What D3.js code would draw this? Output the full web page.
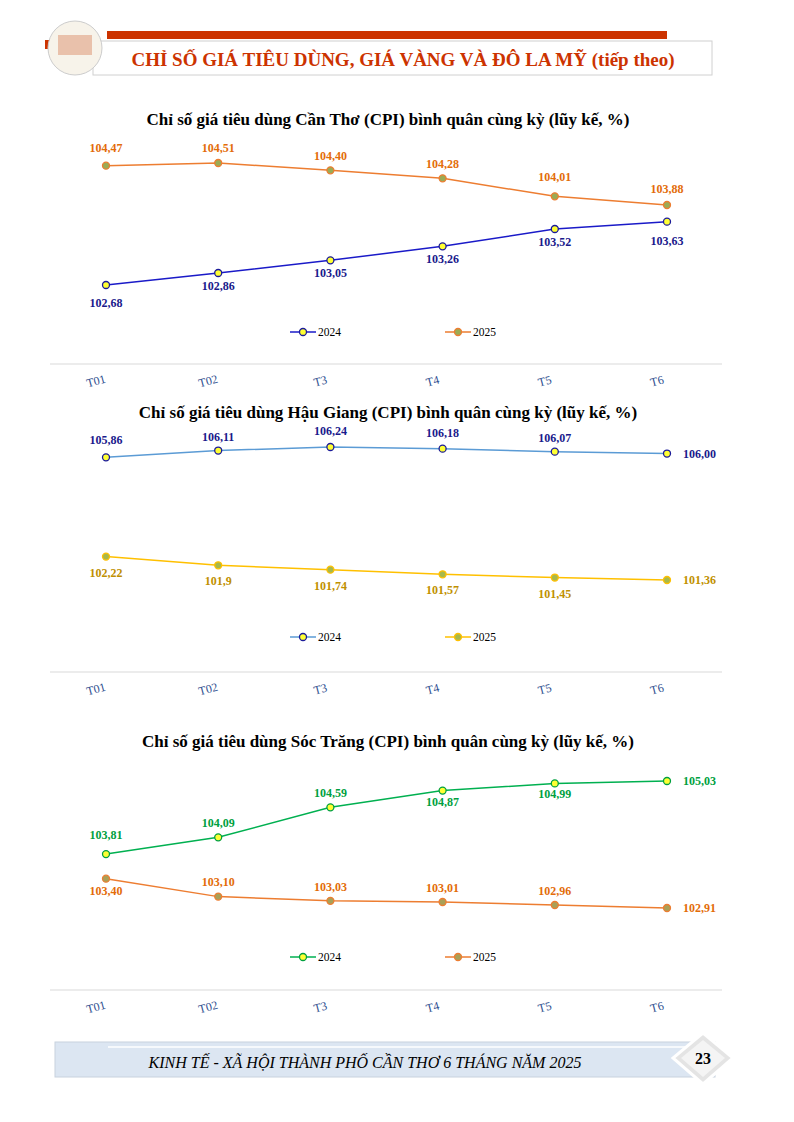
<!DOCTYPE html>
<html><head><meta charset="utf-8">
<script src="https://cdn.jsdelivr.net/npm/d3@7"></script>
<style>body{margin:0;background:#fff}text{font-family:"Liberation Serif","Times New Roman",serif}</style>
</head><body>
<script>
var months = ["T01", "T02", "T3", "T4", "T5", "T6"];
var canTho2024 = [102.68, 102.86, 103.05, 103.26, 103.52, 103.63];
var canTho2025 = [104.47, 104.51, 104.40, 104.28, 104.01, 103.88];
var hauGiang2024 = [105.86, 106.11, 106.24, 106.18, 106.07, 106.00];
var hauGiang2025 = [102.22, 101.9, 101.74, 101.57, 101.45, 101.36];
var hauGiang2025Labels = ["102,22", "101,9", "101,74", "101,57", "101,45", "101,36"];
var socTrang2024 = [103.81, 104.09, 104.59, 104.87, 104.99, 105.03];
var socTrang2025 = [103.40, 103.10, 103.03, 103.01, 102.96, 102.91];

var svg = d3.select("body").append("svg").attr("width", 794).attr("height", 1122);
var fmt = function(v) { return v.toFixed(2).replace(".", ","); };

// header
svg.append("rect").attr("x", 107).attr("y", 31).attr("width", 560).attr("height", 8).attr("fill", "#cc3300");
svg.append("rect").attr("x", 93).attr("y", 41).attr("width", 619).attr("height", 34).attr("fill", "#fff").attr("stroke", "#d0d0d0");
svg.append("rect").attr("x", 45).attr("y", 40).attr("width", 16).attr("height", 9).attr("fill", "#cc3300");
svg.append("circle").attr("cx", 75).attr("cy", 48).attr("r", 27).attr("fill", "#f7f3ea").attr("stroke", "#ccc");
svg.append("rect").attr("x", 58).attr("y", 35).attr("width", 34).attr("height", 20).attr("fill", "#e0a080").attr("opacity", 0.6);
svg.append("text").attr("x", 403).attr("y", 66).attr("text-anchor", "middle").attr("font-size", 19).attr("font-weight", "bold")
  .attr("fill", "#cc3300").text("CHỈ SỐ GIÁ TIÊU DÙNG, GIÁ VÀNG VÀ ĐÔ LA MỸ (tiếp theo)");

var x = d3.scalePoint().domain(months).range([106, 667]);

function chart(o) {
  var all = o.s.reduce(function(a, s) { return a.concat(s.v); }, []);
  var y = d3.scaleLinear().domain([d3.min(all), d3.max(all)]).range([o.yb, o.yt]);
  svg.append("text").attr("x", 388).attr("y", o.title).attr("text-anchor", "middle").attr("font-size", 17)
    .attr("font-weight", "bold").text(o.name);
  var line = d3.line().x(function(d, i) { return x(months[i]); }).y(function(d) { return y(d); });
  o.s.forEach(function(s, k) {
    var g = svg.append("g");
    g.append("path").attr("d", line(s.v)).attr("fill", "none").attr("stroke", s.line).attr("stroke-width", 1.5);
    g.selectAll("circle").data(s.v).enter().append("circle")
      .attr("cx", function(d, i) { return x(months[i]); }).attr("cy", function(d) { return y(d); })
      .attr("r", 3.5).attr("fill", s.fill).attr("stroke", s.mk).attr("stroke-width", 1.3);
    g.selectAll("text").data(s.v).enter().append("text")
      .attr("x", function(d, i) { return x(months[i]) + (i == 5 && s.right ? 16 : 0); })
      .attr("y", function(d, i) { return y(d) + (i == 5 && s.right ? 4 : s.off[i]); })
      .attr("text-anchor", function(d, i) { return i == 5 && s.right ? "start" : "middle"; })
      .attr("font-size", 12).attr("font-weight", "bold").attr("fill", s.lab)
      .text(function(d, i) { return s.labels ? s.labels[i] : fmt(d); });
    var lx = [290, 445][k];
    svg.append("line").attr("x1", lx).attr("x2", lx + 26).attr("y1", o.leg).attr("y2", o.leg).attr("stroke", s.line).attr("stroke-width", 1.5);
    svg.append("circle").attr("cx", lx + 13).attr("cy", o.leg).attr("r", 3.5).attr("fill", s.fill).attr("stroke", s.mk).attr("stroke-width", 1.3);
    svg.append("text").attr("x", lx + 28).attr("y", o.leg + 4).attr("font-size", 11.5).text(k ? "2025" : "2024");
  });
  svg.append("line").attr("x1", 50).attr("x2", 722).attr("y1", o.axis).attr("y2", o.axis).attr("stroke", "#d9d9d9").attr("stroke-width", 1.2);
  svg.selectAll(null).data(months).enter().append("text")
    .attr("transform", function(d) { return "translate(" + (x(d) - 9) + "," + (o.axis + 21) + ") rotate(-15)"; })
    .attr("text-anchor", "middle").attr("font-size", 12).attr("fill", "#2f4f8f").text(function(d) { return d; });
}

var orange = "#ed7d31";
chart({ name: "Chỉ số giá tiêu dùng Cần Thơ (CPI) bình quân cùng kỳ (lũy kế, %)", title: 125, yt: 163, yb: 285, leg: 332, axis: 364,
  s: [
    { v: canTho2024, line: "#1a1ac8", mk: "#1a1a9a", fill: "#ffff33", lab: "#1a1a8c", off: [22, 17, 17, 17, 17, 23] },
    { v: canTho2025, line: orange, mk: orange, fill: "#9bab55", lab: "#e36c09", off: [-14, -11, -10, -10, -15, -12] }
  ] });
chart({ name: "Chỉ số giá tiêu dùng Hậu Giang (CPI) bình quân cùng kỳ (lũy kế, %)", title: 418, yt: 447, yb: 580, leg: 637, axis: 672,
  s: [
    { v: hauGiang2024, line: "#5b9bd5", mk: "#1a1a9a", fill: "#ffff33", lab: "#1a1a8c", off: [-13, -10, -12, -12, -10, 0], right: true },
    { v: hauGiang2025, labels: hauGiang2025Labels, line: "#ffc000", mk: "#ffc000", fill: "#a8b84a", lab: "#c09000", off: [20, 20, 20, 20, 20, 0], right: true }
  ] });
chart({ name: "Chỉ số giá tiêu dùng Sóc Trăng (CPI) bình quân cùng kỳ (lũy kế, %)", title: 747, yt: 781, yb: 908, leg: 957, axis: 990,
  s: [
    { v: socTrang2024, line: "#00b050", mk: "#00a040", fill: "#ffff33", lab: "#00a040", off: [-15, -10, -10, 15, 15, 0], right: true },
    { v: socTrang2025, line: orange, mk: orange, fill: "#a9a057", lab: "#e36c09", off: [16, -11, -10, -10, -10, 0], right: true }
  ] });

// footer
svg.append("rect").attr("x", 55).attr("y", 1042).attr("width", 660).attr("height", 35).attr("fill", "#dce6f2").attr("stroke", "#c8d2de");
svg.append("line").attr("x1", 108).attr("x2", 690).attr("y1", 1047).attr("y2", 1047).attr("stroke", "#fff").attr("stroke-width", 1.5);
svg.append("text").attr("x", 365).attr("y", 1068).attr("text-anchor", "middle").attr("font-size", 16).attr("font-style", "italic")
  .text("KINH TẾ - XÃ HỘI THÀNH PHỐ CẦN THƠ 6 THÁNG NĂM 2025");
svg.append("path").attr("d", "M703,1033 L733,1058 L703,1084 L673,1058 Z").attr("fill", "#e4e4e4").attr("stroke", "#fff").attr("stroke-width", 3);
svg.append("path").attr("d", "M703,1040 L725,1058 L703,1077 L681,1058 Z").attr("fill", "#f4f4f4");
svg.append("text").attr("x", 703).attr("y", 1064).attr("text-anchor", "middle").attr("font-size", 16).attr("font-weight", "bold").text("23");
</script>
</body></html>
